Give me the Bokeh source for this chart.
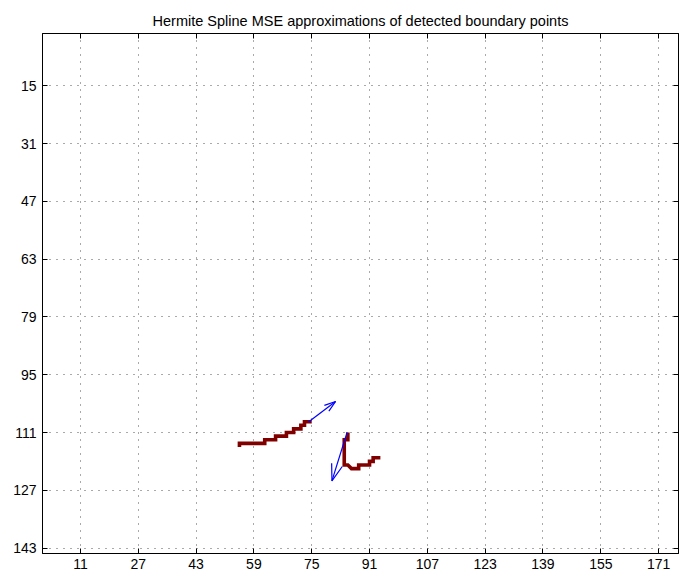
from bokeh.plotting import figure
from bokeh.models import Range1d, FixedTicker, LinearAxis, CustomJSTickFormatter, Title
from bokeh.embed import file_html
from bokeh.resources import INLINE

# Tick positions (image pixel coordinates)
x_ticks = [11, 27, 43, 59, 75, 91, 107, 123, 139, 155, 171]
y_ticks = [15, 31, 47, 63, 79, 95, 111, 127, 143]

# Detected boundary points, first segment
boundary_a_x = [55, 55, 62, 62, 65, 65, 68, 68, 70, 70, 72, 72, 73, 73, 75]
boundary_a_y = [115, 114, 114, 113, 113, 112, 112, 111, 111, 110, 110, 109, 109, 108, 108]

# Detected boundary points, second segment
boundary_b_x = [85, 85, 84, 84, 85, 86, 88, 88, 91, 91, 92, 92, 94]
boundary_b_y = [111, 113, 113, 120, 120, 121, 121, 120, 120, 119, 119, 118, 118]

# Hermite spline end tangents (quiver origin and direction)
arrow_x = [74.1, 84.8]
arrow_y = [108.1, 110.9]
arrow_u = [7.5, -4.2]
arrow_v = [-5.7, 13.5]

TITLE = "Hermite Spline MSE approximations of detected boundary points"
FONT = "Liberation Sans"

p = figure(width=686, height=578,
           x_range=Range1d(0.5, 176.5), y_range=Range1d(144.5, 0.5),
           output_backend="svg", toolbar_location=None,
           min_border_left=42, min_border_right=8,
           min_border_top=33, min_border_bottom=25)
p.background_fill_color = "white"
p.border_fill_color = "white"
p.outline_line_color = "black"
p.outline_line_width = 1


def style_axis(ax, ticks, labels=True, standoff=5):
    ax.ticker = FixedTicker(ticks=ticks)
    ax.major_tick_in = 5
    ax.major_tick_out = 0
    ax.minor_tick_in = 0
    ax.minor_tick_out = 0
    ax.axis_line_color = "black"
    ax.major_tick_line_color = "black"
    ax.major_label_text_font = FONT
    ax.major_label_text_font_size = "14px"
    ax.major_label_text_color = "black"
    ax.major_label_standoff = standoff
    if not labels:
        ax.formatter = CustomJSTickFormatter(code="return ''")
        ax.major_label_standoff = standoff
        ax.major_label_text_font_size = "1px"


style_axis(p.xaxis[0], x_ticks, standoff=5)
style_axis(p.yaxis[0], y_ticks, standoff=6)
top_axis = LinearAxis()
style_axis(top_axis, x_ticks, labels=False, standoff=5)
p.add_layout(top_axis, "above")
right_axis = LinearAxis()
style_axis(right_axis, y_ticks, labels=False, standoff=0)
p.add_layout(right_axis, "right")

title = Title(text=TITLE, align="center", text_font=FONT,
              text_font_size="14.5px", text_font_style="normal",
              text_color="black")
p.add_layout(title, "above")

for g in (p.xgrid[0], p.ygrid[0]):
    g.grid_line_color = "#555555"
    g.grid_line_dash = "1 6"
    g.grid_line_width = 1
p.xgrid[0].ticker = FixedTicker(ticks=x_ticks)
p.ygrid[0].ticker = FixedTicker(ticks=y_ticks)

# Boundary pixels
red = "#800000"
p.line(boundary_a_x, boundary_a_y, line_color=red, line_width=3.6,
       line_join="miter", line_cap="butt")
p.line(boundary_b_x, boundary_b_y, line_color=red, line_width=3.6,
       line_join="miter", line_cap="butt")

# Quiver arrows with default arrowhead proportions
alpha, beta = 0.33, 0.33
tip_x = [x + u for x, u in zip(arrow_x, arrow_u)]
tip_y = [y + v for y, v in zip(arrow_y, arrow_v)]
p.segment(arrow_x, arrow_y, tip_x, tip_y, line_color="blue", line_width=1.2)
head_xs, head_ys = [], []
for tx, ty, u, v in zip(tip_x, tip_y, arrow_u, arrow_v):
    head_xs.append([tx - alpha * (u + beta * v), tx, tx - alpha * (u - beta * v)])
    head_ys.append([ty - alpha * (v - beta * u), ty, ty - alpha * (v + beta * u)])
p.multi_line(head_xs, head_ys, line_color="blue", line_width=1.2)

open("out.html", "w").write(file_html(p, INLINE))
